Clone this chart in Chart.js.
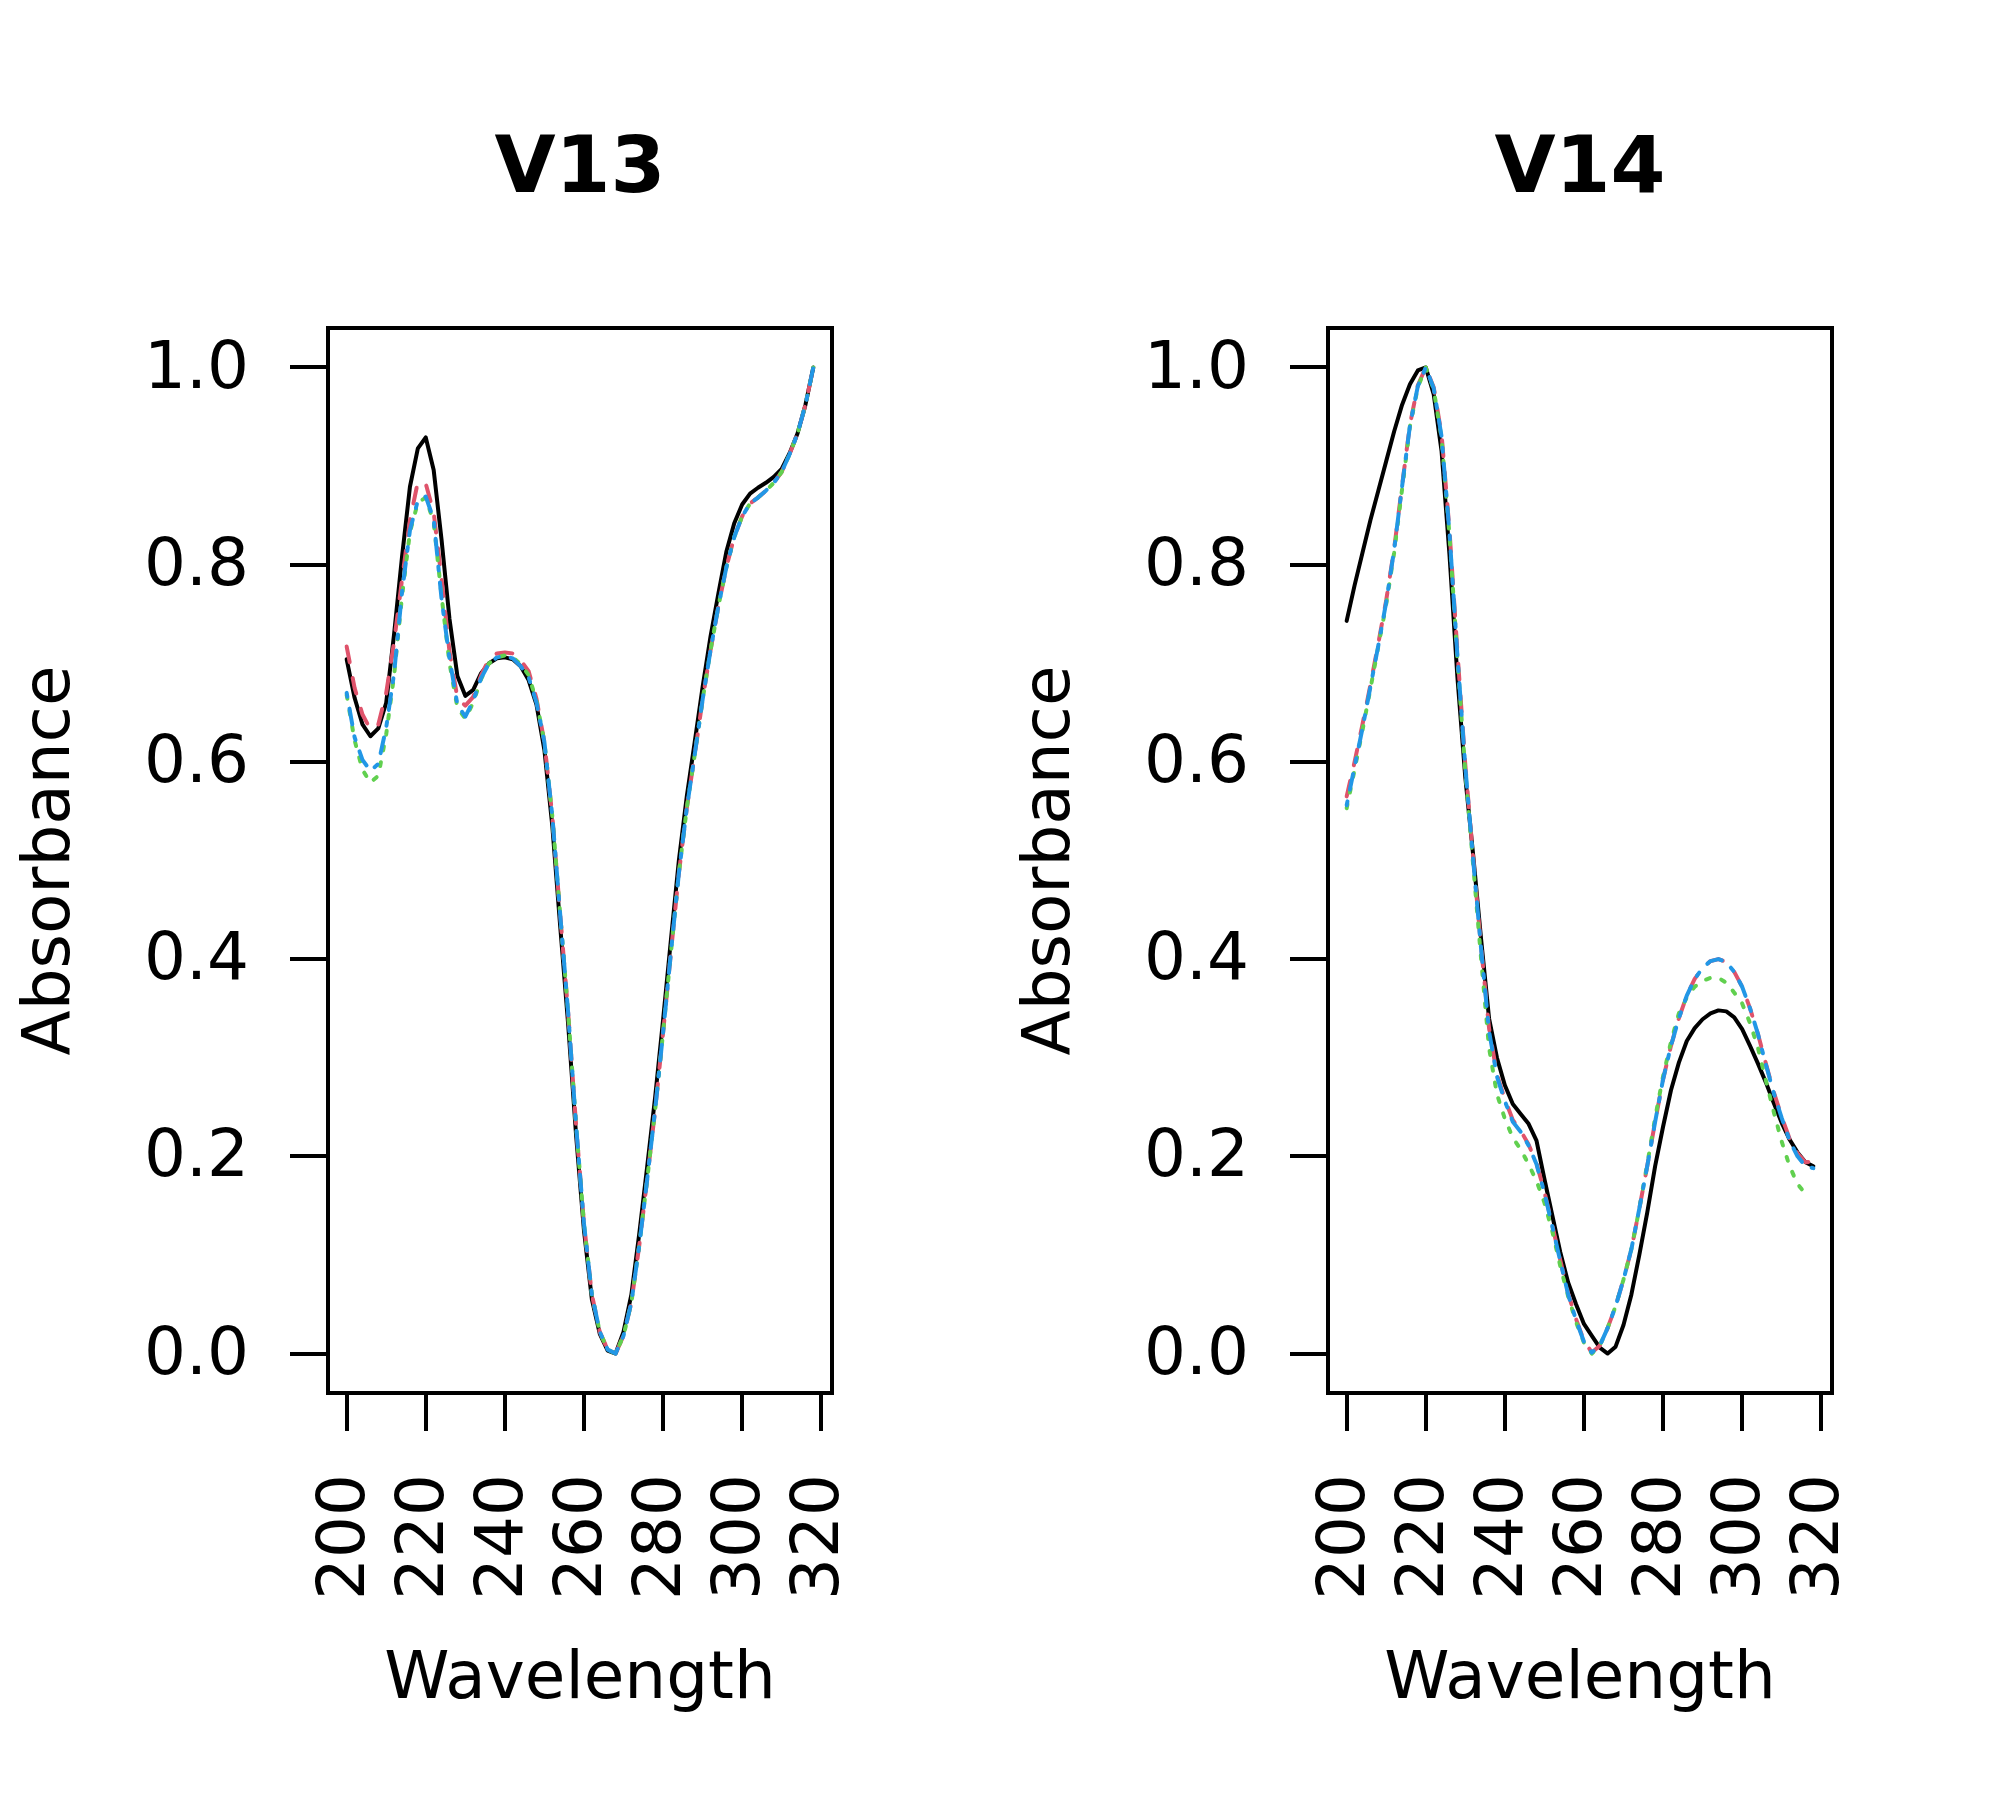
<!DOCTYPE html>
<html>
<head>
<meta charset="utf-8">
<script src="https://cdn.jsdelivr.net/npm/chart.js@4.4.1/dist/chart.umd.min.js"></script>
<style>
  html, body { margin: 0; padding: 0; background: #fff; }
  #wrap { position: relative; width: 2000px; height: 1802px; }
  canvas { position: absolute; top: 0; }
</style>
</head>
<body>
<div id="wrap">
  <canvas id="v13" width="1000" height="1802" style="left:0px"></canvas>
  <canvas id="v14" width="1000" height="1802" style="left:1000px"></canvas>
</div>
<script>
// wavelengths (nm)
const wavelength = [200, 202, 204, 206, 208, 210, 212, 214, 216, 218,
  220, 222, 224, 226, 228, 230, 232, 234, 236, 238,
  240, 242, 244, 246, 248, 250, 252, 254, 256, 258,
  260, 262, 264, 266, 268, 270, 272, 274, 276, 278,
  280, 282, 284, 286, 288, 290, 292, 294, 296, 298,
  300, 302, 304, 306, 308, 310, 312, 314, 316, 318];

const xTicks = [200, 220, 240, 260, 280, 300, 320];
const yTicks = [0, 0.2, 0.4, 0.6, 0.8, 1.0];

// V13 panel
const v13Black = [0.704, 0.665, 0.638, 0.626, 0.634, 0.660, 0.730, 0.808, 0.879, 0.918,
  0.929, 0.896, 0.825, 0.745, 0.687, 0.667, 0.673, 0.690, 0.700, 0.705,
  0.706, 0.704, 0.697, 0.683, 0.658, 0.612, 0.535, 0.433, 0.334, 0.222,
  0.125, 0.055, 0.020, 0.003, 0.000, 0.022, 0.060, 0.122, 0.190, 0.260,
  0.338, 0.420, 0.500, 0.565, 0.620, 0.676, 0.727, 0.771, 0.813, 0.842,
  0.861, 0.872, 0.878, 0.883, 0.889, 0.897, 0.913, 0.933, 0.962, 1.000];
const v13Red = [0.717, 0.675, 0.648, 0.633, 0.638, 0.670, 0.722, 0.785, 0.845, 0.884,
  0.882, 0.853, 0.786, 0.712, 0.665, 0.657, 0.666, 0.688, 0.704, 0.710,
  0.711, 0.710, 0.703, 0.692, 0.664, 0.620, 0.545, 0.445, 0.346, 0.232,
  0.132, 0.060, 0.022, 0.004, 0.000, 0.018, 0.052, 0.110, 0.177, 0.247,
  0.325, 0.407, 0.487, 0.553, 0.607, 0.663, 0.713, 0.758, 0.797, 0.828,
  0.849, 0.862, 0.868, 0.875, 0.883, 0.894, 0.912, 0.933, 0.962, 1.000];
const v13Green = [0.668, 0.622, 0.592, 0.579, 0.586, 0.628, 0.688, 0.768, 0.833, 0.863,
  0.868, 0.843, 0.768, 0.700, 0.655, 0.644, 0.660, 0.684, 0.700, 0.706,
  0.708, 0.706, 0.699, 0.688, 0.662, 0.620, 0.545, 0.445, 0.346, 0.232,
  0.132, 0.060, 0.022, 0.004, 0.000, 0.018, 0.052, 0.110, 0.177, 0.247,
  0.325, 0.407, 0.487, 0.553, 0.607, 0.663, 0.713, 0.758, 0.797, 0.828,
  0.849, 0.862, 0.868, 0.875, 0.883, 0.894, 0.912, 0.933, 0.962, 1.000];
const v13Blue = [0.670, 0.625, 0.602, 0.591, 0.598, 0.635, 0.690, 0.772, 0.835, 0.865,
  0.869, 0.846, 0.765, 0.705, 0.658, 0.646, 0.662, 0.685, 0.700, 0.706,
  0.707, 0.705, 0.697, 0.686, 0.660, 0.620, 0.545, 0.445, 0.346, 0.232,
  0.132, 0.060, 0.022, 0.004, 0.000, 0.018, 0.052, 0.110, 0.177, 0.247,
  0.325, 0.407, 0.487, 0.553, 0.607, 0.663, 0.713, 0.758, 0.797, 0.828,
  0.849, 0.862, 0.868, 0.875, 0.883, 0.894, 0.912, 0.933, 0.962, 1.000];

// V14 panel
const v14Black = [0.743, 0.779, 0.812, 0.845, 0.875, 0.905, 0.935, 0.962, 0.983, 0.997,
  1.000, 0.973, 0.915, 0.810, 0.686, 0.584, 0.505, 0.420, 0.340, 0.300,
  0.272, 0.253, 0.243, 0.233, 0.216, 0.177, 0.140, 0.103, 0.072, 0.050,
  0.030, 0.018, 0.006, 0.000, 0.007, 0.029, 0.060, 0.100, 0.143, 0.190,
  0.230, 0.267, 0.295, 0.317, 0.330, 0.339, 0.345, 0.348, 0.347, 0.341,
  0.329, 0.312, 0.294, 0.275, 0.254, 0.234, 0.217, 0.204, 0.194, 0.190];
const v14Red = [0.565, 0.600, 0.638, 0.678, 0.720, 0.764, 0.816, 0.880, 0.942, 0.982,
  1.000, 0.980, 0.932, 0.835, 0.712, 0.597, 0.502, 0.412, 0.330, 0.283,
  0.258, 0.237, 0.226, 0.212, 0.193, 0.164, 0.130, 0.095, 0.061, 0.035,
  0.013, 0.001, 0.008, 0.026, 0.048, 0.075, 0.106, 0.147, 0.190, 0.235,
  0.278, 0.312, 0.340, 0.363, 0.380, 0.391, 0.398, 0.400, 0.397, 0.387,
  0.372, 0.350, 0.324, 0.294, 0.265, 0.240, 0.218, 0.203, 0.194, 0.195];
const v14Green = [0.553, 0.592, 0.632, 0.674, 0.717, 0.760, 0.812, 0.876, 0.940, 0.980,
  1.000, 0.978, 0.928, 0.830, 0.705, 0.590, 0.495, 0.400, 0.310, 0.263,
  0.238, 0.219, 0.207, 0.192, 0.175, 0.153, 0.124, 0.089, 0.058, 0.032,
  0.011, 0.000, 0.008, 0.026, 0.048, 0.075, 0.106, 0.147, 0.192, 0.239,
  0.281, 0.316, 0.345, 0.361, 0.372, 0.378, 0.381, 0.381, 0.376, 0.366,
  0.355, 0.335, 0.310, 0.277, 0.245, 0.215, 0.190, 0.172, 0.162, null];
const v14Blue = [0.556, 0.595, 0.634, 0.676, 0.718, 0.762, 0.815, 0.879, 0.941, 0.981,
  1.000, 0.979, 0.930, 0.832, 0.708, 0.595, 0.500, 0.410, 0.327, 0.281,
  0.256, 0.235, 0.225, 0.211, 0.192, 0.163, 0.129, 0.094, 0.060, 0.034,
  0.012, 0.001, 0.008, 0.026, 0.048, 0.075, 0.106, 0.147, 0.190, 0.235,
  0.278, 0.312, 0.340, 0.363, 0.380, 0.391, 0.398, 0.400, 0.397, 0.387,
  0.372, 0.350, 0.324, 0.293, 0.264, 0.239, 0.216, 0.200, 0.190, 0.188];

const FONT = "'DejaVu Sans', 'Liberation Sans', sans-serif";
const LW = 4;
const FS = 66;

// R's box() round the plot region
const boxPlugin = {
  id: 'box',
  afterDraw(chart) {
    const { ctx, chartArea: a } = chart;
    ctx.save();
    ctx.strokeStyle = '#000';
    ctx.lineWidth = LW;
    ctx.strokeRect(a.left, a.top, a.right - a.left, a.bottom - a.top);
    ctx.restore();
  }
};

function series(values, color, dash, order) {
  return {
    data: wavelength.map((w, i) => ({ x: w, y: values[i] })),
    borderColor: color,
    borderWidth: LW,
    borderDash: dash,
    borderCapStyle: 'round',
    borderJoinStyle: 'round',
    pointRadius: 0,
    tension: 0,
    fill: false,
    order: order
  };
}

function makeChart(id, title, black, red, green, blue) {
  return new Chart(document.getElementById(id), {
    type: 'line',
    data: {
      datasets: [
        series(black, '#000000', [], 4),
        series(red, '#DF536B', [16, 16], 3),
        series(green, '#61D04F', [4, 12], 2),
        series(blue, '#2297E6', [4, 12, 16, 12], 1)
      ]
    },
    options: {
      responsive: false,
      animation: false,
      devicePixelRatio: 1,
      layout: { padding: { top: 0, right: 168, bottom: 0, left: 0 } },
      plugins: {
        legend: { display: false },
        tooltip: { enabled: false },
        title: {
          display: true,
          text: title,
          fullSize: false,
          color: '#000',
          font: { family: FONT, size: 79, weight: 'bold', lineHeight: 1.2 },
          padding: { top: 124, bottom: 109.2 }
        }
      },
      scales: {
        x: {
          type: 'linear',
          min: 195.28,
          max: 322.72,
          afterBuildTicks: s => { s.ticks = xTicks.map(v => ({ value: v })); },
          afterFit: s => { s.height = 409; },
          border: { display: false },
          grid: { drawOnChartArea: false, drawTicks: true, tickLength: 38, color: '#000', lineWidth: LW },
          ticks: {
            autoSkip: false, minRotation: 90, maxRotation: 90, padding: 43,
            color: '#000', font: { family: FONT, size: FS },
            callback: v => String(v)
          },
          title: {
            display: true, text: 'Wavelength', color: '#000',
            font: { family: FONT, size: FS, lineHeight: 1.2 },
            padding: { top: 0, bottom: 82 }
          }
        },
        y: {
          type: 'linear',
          min: -0.04,
          max: 1.04,
          afterBuildTicks: s => { s.ticks = yTicks.map(v => ({ value: v })); },
          afterFit: s => { s.width = 328; },
          border: { display: false },
          grid: { drawOnChartArea: false, drawTicks: true, tickLength: 38, color: '#000', lineWidth: LW },
          ticks: {
            padding: 41, labelOffset: 3, color: '#000', font: { family: FONT, size: FS },
            callback: v => v.toFixed(1)
          },
          title: {
            display: true, text: 'Absorbance', color: '#000',
            font: { family: FONT, size: FS, lineHeight: 1.2 },
            padding: { top: 11.8, bottom: 0 }
          }
        }
      }
    },
    plugins: [boxPlugin]
  });
}

makeChart('v13', 'V13', v13Black, v13Red, v13Green, v13Blue);
makeChart('v14', 'V14', v14Black, v14Red, v14Green, v14Blue);
</script>
</body>
</html>
